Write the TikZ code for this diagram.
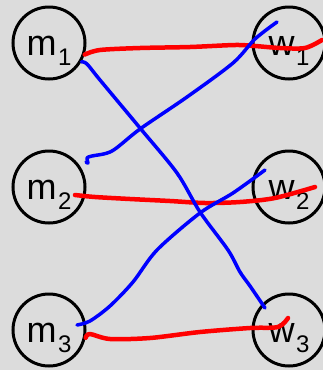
\documentclass[tikz,border=0pt]{standalone}
\usepackage{fontspec}
\setmainfont{Liberation Sans}
\usetikzlibrary{calc}

\definecolor{BackColor}{HTML}{DCDCDC}
\definecolor{PairRed}{HTML}{FF0000}
\definecolor{PairBlue}{HTML}{0000FF}

\newcommand\lowidx[1]{\kern1.5pt\raisebox{-10pt}{\fontsize{24}{24}\selectfont #1}}

\begin{document}
\begin{tikzpicture}[x=1pt,y=-1pt,
  person/.style={circle,draw=black,line width=3pt,minimum size=72pt,inner sep=0pt,
    font=\fontsize{36}{36}\selectfont,text height=24pt,text depth=0pt},
  redpair/.style={PairRed,line width=4.5pt,line cap=round,line join=round},
  bluepair/.style={PairBlue,line width=3.5pt,line cap=round,line join=round}]
  % ===== Parámetros =====
  \def\colM{49}
  \def\colW{289}

  % ===== Fondo =====
  \fill[BackColor] (0,0) rectangle (323,370);
  \useasboundingbox (0,0) rectangle (323,370);

  % ===== Nodos =====
  \foreach \i/\y in {1/43,2/187,3/330}{
    \node[person] (m\i) at (\colM,\y) {m\lowidx{\i}};
    \node[person] (w\i) at (\colW,\y) {w\lowidx{\i}};
  }

  % ===== Extremos libres =====
  \coordinate (r1e) at ($(w1)+(33,-3)$);
  \coordinate (r2s) at ($(m2)+(26,8)$);
  \coordinate (r2e) at ($(w2)+(26,0)$);
  \coordinate (r3e) at ($(w3)+(-1,-12)$);
  \coordinate (b1e) at ($(w3)+(-24,-22)$);
  \coordinate (b2s) at ($(m2)+(37,-25)$);
  \coordinate (b2e) at ($(w1)+(-12,-21)$);
  \coordinate (b3s) at ($(m3)+(28,-5)$);
  \coordinate (b3e) at ($(w2)+(-24,-17)$);

  % ===== Parejas (rojo) =====
  \draw[redpair] plot[smooth] coordinates {(m1.-18) (100,50) (140,48) (190,47)
    (235,45) (255,46) (280,48) (305,48) (r1e)};
  \draw[redpair] plot[smooth] coordinates {(r2s) (95,197) (130,199) (170,201)
    (205,203) (240,202) (275,198) (r2e)};
  \draw[redpair] plot[smooth] coordinates {(m3.-12) (90,334) (110,339) (150,338)
    (200,332) (250,328) (278,327) (r3e)};

  % ===== Parejas (azul) =====
  \draw[bluepair] plot[smooth] coordinates {(m1.-30) (87,64) (100,80) (140,128)
    (177,173) (200,212) (228,250) (240,272) (250,286) (b1e)};
  \draw[bluepair] plot[smooth] coordinates {(b2s) (88,163) (87,158) (92,156)
    (112,151) (140,129) (187,97) (233,63) (255,39) (b2e)};
  \draw[bluepair] plot[smooth] coordinates {(b3s) (90,321) (110,306) (133,282)
    (157,250) (200,213) (233,193) (b3e)};

\end{tikzpicture}
\end{document}
